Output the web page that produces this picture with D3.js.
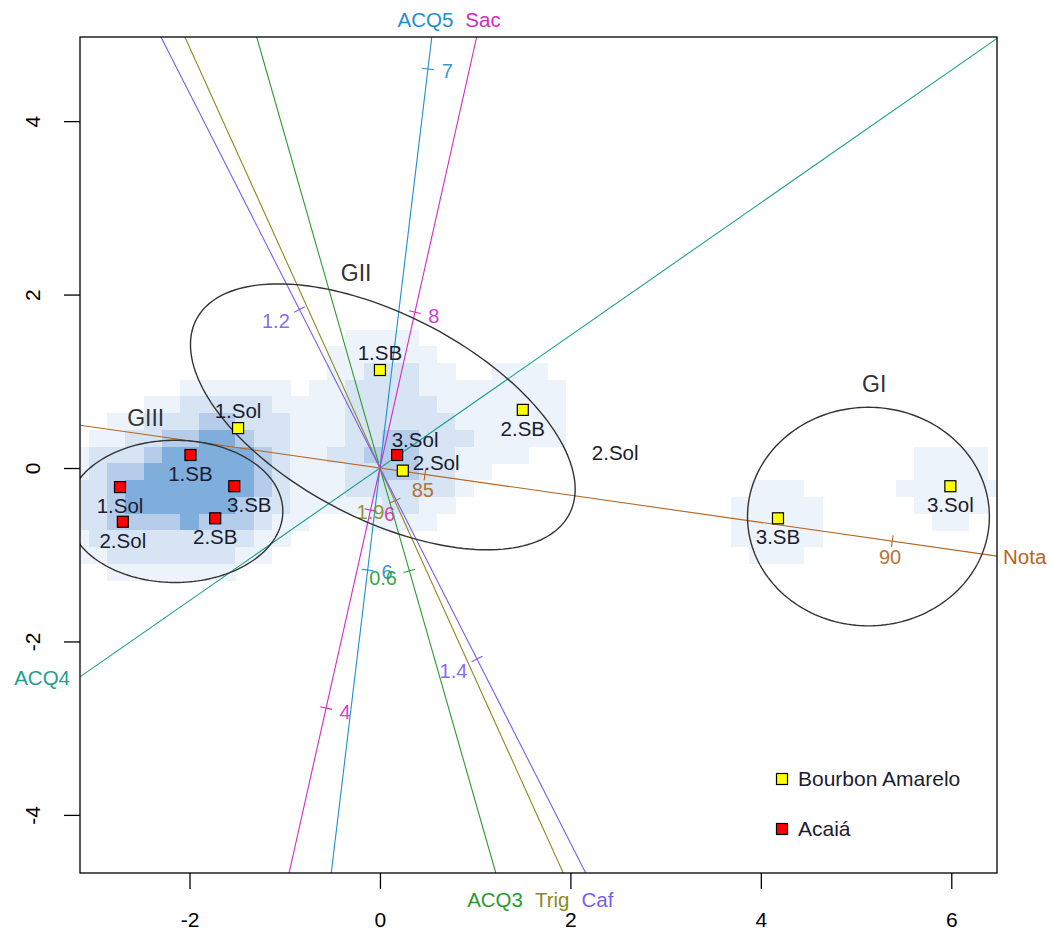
<!DOCTYPE html>
<html>
<head>
<meta charset="utf-8">
<script src="https://cdn.jsdelivr.net/npm/d3@7"></script>
<style>
  body { margin: 0; background: #fff; }
  text { font-family: "Liberation Sans", Arial, sans-serif; }
</style>
</head>
<body>
<svg id="chart" width="1049" height="931"></svg>
<script>
// axis ticks
var xTicks = [-2, 0, 2, 4, 6];
var yTicks = [-4, -2, 0, 2, 4];

// cultivars (legend)
var cultivar = ["Bourbon Amarelo", "Acaiá"];
var cultivarColor = ["#ffff00", "#ff0000"];

// sample scores
var pointLabel = ["1.SB", "2.SB", "1.Sol", "2.Sol", "3.SB", "3.Sol",
                  "1.SB", "2.SB", "1.Sol", "2.Sol", "3.SB", "3.Sol"];
var pointCultivar = [0, 0, 0, 0, 0, 0, 1, 1, 1, 1, 1, 1];
var pointX = [0.00, 1.50, -1.49, 0.24, 4.18, 5.99, -1.99, -1.73, -2.73, -2.70, -1.53, 0.18];
var pointY = [1.13, 0.67, 0.46, -0.03, -0.58, -0.21, 0.15, -0.58, -0.22, -0.62, -0.21, 0.15];

// stray label
var extraLabel = ["2.Sol"];
var extraX = [2.47];
var extraY = [0.18];

// groups (ellipses)
var groupName = ["GI", "GII", "GIII"];
var groupCx = [5.13, 0.03, -2.15];
var groupCy = [-0.56, 0.59, -0.50];
var groupA = [1.27, 2.26, 1.13];
var groupB = [1.26, 1.15, 0.82];
var groupAngle = [0, -31.4, 0];
var groupLabelX = [5.19, -0.25, -2.46];
var groupLabelY = [0.97, 2.25, 0.58];

// variable axes: direction of increasing values, value at origin, length per unit
var varName = ["Nota", "ACQ4", "ACQ5", "Sac", "ACQ3", "Trig", "Caf"];
var varColor = ["#b5651d", "#1fa08c", "#1f8fd0", "#d42ac6", "#2e9a2e", "#8c8a1e", "#7b5cf0"];
var varAngle = [-8.91, 217.4, 83.75, 78.45, -75.4, -67.6, -65.17];
var varMean = [84.518, 0, 6.2037, 6.425, 0.565, 1.8932, 1.2907];
var varUnit = [0.9934, 1, 5.812, 1.165, 35, 60, 22.2];
var varTicks = [[85, 90], [], [6, 7], [4, 6, 8], [0.6], [1.9], [1.2, 1.4]];

// density shading
var densityBreaks = [0.62, 1.08, 1.8, 2.3];
var densityColor = ["#edf3fa", "#d6e4f3", "#b5cdea", "#80aedc"];

var svg = d3.select("#chart");
var x = d3.scaleLinear().domain([-3.15, 6.48]).range([80, 997]);
var y = d3.scaleLinear().domain([-4.67, 4.97]).range([873, 37]);
var pL = 80, pR = 997, pT = 37, pB = 873;

svg.append("clipPath").attr("id", "plotClip")
  .append("rect").attr("x", pL).attr("y", pT)
  .attr("width", pR - pL).attr("height", pB - pT);
var plot = svg.append("g").attr("clip-path", "url(#plotClip)");

// density grid
var bw = 0.5, cellW = 9.63 / 50, cellH = 9.64 / 50;
var cells = [];
for (var i = -1; i < 52; i++) {
  for (var j = -1; j < 52; j++) {
    var x0 = -3.15 + (i + 0.47) * cellW, y1 = 4.97 - (j + 0.5) * cellH;
    var cx = x0 + cellW / 2, cy = y1 - cellH / 2, d = 0;
    for (var k = 0; k < pointX.length; k++) {
      var dx = cx - pointX[k], dy = cy - pointY[k];
      d += Math.exp(-(dx * dx + dy * dy) / (2 * bw * bw));
    }
    var lev = d3.bisectRight(densityBreaks, d);
    if (lev > 0) cells.push({x0: x0, y1: y1, lev: lev});
  }
}
plot.selectAll("rect.cell").data(cells).join("rect")
  .attr("class", "cell")
  .attr("x", function(d) { return x(d.x0); })
  .attr("y", function(d) { return y(d.y1); })
  .attr("width", x(cellW) - x(0) + 0.4)
  .attr("height", y(0) - y(cellH) + 0.4)
  .attr("fill", function(d) { return densityColor[d.lev - 1]; })
  .attr("shape-rendering", "crispEdges");

// variable axes
var dom = {x0: x.domain()[0], x1: x.domain()[1], y0: y.domain()[0], y1: y.domain()[1]};
function tRange(c, s) {
  var tmax = Infinity, tmin = -Infinity;
  if (c > 1e-9) { tmax = Math.min(tmax, dom.x1 / c); tmin = Math.max(tmin, dom.x0 / c); }
  if (c < -1e-9) { tmax = Math.min(tmax, dom.x0 / c); tmin = Math.max(tmin, dom.x1 / c); }
  if (s > 1e-9) { tmax = Math.min(tmax, dom.y1 / s); tmin = Math.max(tmin, dom.y0 / s); }
  if (s < -1e-9) { tmax = Math.min(tmax, dom.y0 / s); tmin = Math.max(tmin, dom.y1 / s); }
  return [tmin, tmax];
}

var endLabels = [];
varName.forEach(function(name, v) {
  var a = varAngle[v] * Math.PI / 180, c = Math.cos(a), s = Math.sin(a);
  var tr = tRange(c, s);
  var col = varColor[v];
  plot.append("line")
    .attr("x1", x(tr[0] * c)).attr("y1", y(tr[0] * s))
    .attr("x2", x(tr[1] * c)).attr("y2", y(tr[1] * s))
    .attr("stroke", col).attr("stroke-width", 1.1);

  // screen direction of increasing values
  var sx = x(c) - x(0), sy = y(s) - y(0), sl = Math.hypot(sx, sy);
  sx /= sl; sy /= sl;
  var px = -sy, py = sx;

  varTicks[v].forEach(function(val) {
    var t = (val - varMean[v]) * varUnit[v];
    var tx = x(t * c), ty = y(t * s);
    plot.append("line")
      .attr("x1", tx - px * 6).attr("y1", ty - py * 6)
      .attr("x2", tx + px * 6).attr("y2", ty + py * 6)
      .attr("stroke", col).attr("stroke-width", 1.1);
    var lab = plot.append("text").text(String(val))
      .attr("font-size", 20).attr("fill", col).attr("opacity", 0.9)
      .attr("text-anchor", "middle").attr("dominant-baseline", "central");
    var hw = lab.node().getComputedTextLength() / 2;
    var off = 14 + Math.abs(px) * hw;
    lab.attr("x", tx + px * off).attr("y", ty + py * off);
  });

  var ex = x(tr[1] * c), ey = y(tr[1] * s);
  endLabels.push({name: name, col: col, ex: ex, ey: ey});
});

// axis end labels
var sideLabels = {top: [], bottom: []};
endLabels.forEach(function(e) {
  var t = svg.append("text").text(e.name).attr("font-size", 20.5).attr("fill", e.col);
  if (Math.abs(e.ey - pT) < 1) {
    t.attr("text-anchor", "middle").attr("y", 27);
    sideLabels.top.push({node: t, x: e.ex, w: t.node().getComputedTextLength()});
  } else if (Math.abs(e.ey - pB) < 1) {
    t.attr("text-anchor", "middle").attr("y", 907);
    sideLabels.bottom.push({node: t, x: e.ex, w: t.node().getComputedTextLength()});
  } else if (Math.abs(e.ex - pL) < 1) {
    t.attr("text-anchor", "end").attr("x", 70).attr("y", e.ey + 8);
  } else {
    t.attr("text-anchor", "start").attr("x", 1003).attr("y", e.ey + 8);
  }
});
function spread(list) {
  list.sort(function(a, b) { return a.x - b.x; });
  for (var it = 0; it < 30; it++) {
    for (var q = 0; q + 1 < list.length; q++) {
      var a = list[q], b = list[q + 1];
      var gap = (b.x - b.w / 2) - (a.x + a.w / 2);
      if (gap < 12) { var sh = (12 - gap) / 2; a.x -= sh; b.x += sh; }
    }
  }
  list.forEach(function(l) { l.node.attr("x", l.x); });
}
spread(sideLabels.top);
spread(sideLabels.bottom);

// group ellipses
groupName.forEach(function(g, gi) {
  var phi = groupAngle[gi] * Math.PI / 180;
  var pts = d3.range(0, 360, 2).map(function(deg) {
    var t = deg * Math.PI / 180;
    var ux = groupA[gi] * Math.cos(t), uy = groupB[gi] * Math.sin(t);
    return [groupCx[gi] + ux * Math.cos(phi) - uy * Math.sin(phi),
            groupCy[gi] + ux * Math.sin(phi) + uy * Math.cos(phi)];
  });
  plot.append("path")
    .attr("d", d3.line().x(function(p) { return x(p[0]); }).y(function(p) { return y(p[1]); })
      .curve(d3.curveLinearClosed)(pts))
    .attr("fill", "none").attr("stroke", "#333").attr("stroke-width", 1.4);
  svg.append("text").text(g)
    .attr("x", x(groupLabelX[gi])).attr("y", y(groupLabelY[gi]))
    .attr("text-anchor", "middle").attr("dominant-baseline", "central")
    .attr("font-size", 23).attr("fill", "#333");
});

// point labels placement
var labelSide = ["top", "bottom", "top", "right", "bottom", "bottom",
                 "bottom", "bottom", "bottom", "bottom", "bottomright", "topright"];
pointLabel.forEach(function(l, p) {
  var px = x(pointX[p]), py = y(pointY[p]);
  var t = svg.append("text").text(l).attr("font-size", 20.5).attr("fill", "#1c1c30");
  var side = labelSide[p];
  if (side === "top") t.attr("x", px).attr("y", py - 10).attr("text-anchor", "middle");
  if (side === "topright") t.attr("x", px + 18).attr("y", py - 8).attr("text-anchor", "middle");
  if (side === "bottom") t.attr("x", px).attr("y", py + 26).attr("text-anchor", "middle");
  if (side === "bottomright") t.attr("x", px + 15).attr("y", py + 26).attr("text-anchor", "middle");
  if (side === "right") t.attr("x", px + 10).attr("y", py - 1).attr("text-anchor", "start");
});
extraLabel.forEach(function(l, p) {
  svg.append("text").text(l).attr("x", x(extraX[p])).attr("y", y(extraY[p]))
    .attr("text-anchor", "middle").attr("dominant-baseline", "central")
    .attr("font-size", 20.5).attr("fill", "#1c1c30");
});

// points
svg.selectAll("rect.pt").data(pointX).join("rect")
  .attr("class", "pt")
  .attr("x", function(d, p) { return x(pointX[p]) - 5.5; })
  .attr("y", function(d, p) { return y(pointY[p]) - 5.5; })
  .attr("width", 11).attr("height", 11)
  .attr("fill", function(d, p) { return cultivarColor[pointCultivar[p]]; })
  .attr("stroke", "#000").attr("stroke-width", 1.2);

// frame and axes
svg.append("rect").attr("x", pL).attr("y", pT)
  .attr("width", pR - pL).attr("height", pB - pT)
  .attr("fill", "none").attr("stroke", "#000").attr("stroke-width", 1.3);

var gx = svg.append("g").attr("transform", "translate(0," + pB + ")")
  .call(d3.axisBottom(x).tickValues(xTicks).tickSize(16).tickSizeOuter(0).tickPadding(23)
    .tickFormat(function(d) { return String(d); }));
gx.select(".domain").remove();
gx.selectAll("line").attr("stroke-width", 1.3);
gx.selectAll("text").attr("font-size", 21).attr("fill", "#000")
  .attr("font-family", "'Liberation Sans', Arial, sans-serif");

var gy = svg.append("g").attr("transform", "translate(" + pL + ",0)")
  .call(d3.axisLeft(y).tickValues(yTicks).tickSize(16).tickSizeOuter(0)
    .tickFormat(function(d) { return String(d); }));
gy.select(".domain").remove();
gy.selectAll("line").attr("stroke-width", 1.3);
gy.selectAll("text").attr("font-size", 21).attr("fill", "#000")
  .attr("font-family", "'Liberation Sans', Arial, sans-serif")
  .attr("x", 0).attr("dy", null).attr("text-anchor", "middle")
  .attr("transform", "translate(-40,0) rotate(-90)");

// legend
var leg = svg.append("g");
cultivar.forEach(function(c, ci) {
  var ly = 779 + ci * 50;
  leg.append("rect").attr("x", 776.5).attr("y", ly - 5.5).attr("width", 11).attr("height", 11)
    .attr("fill", cultivarColor[ci]).attr("stroke", "#000").attr("stroke-width", 1.2);
  leg.append("text").text(c).attr("x", 798).attr("y", ly + 7)
    .attr("font-size", 21).attr("fill", "#1c1c30");
});
</script>
</body>
</html>
